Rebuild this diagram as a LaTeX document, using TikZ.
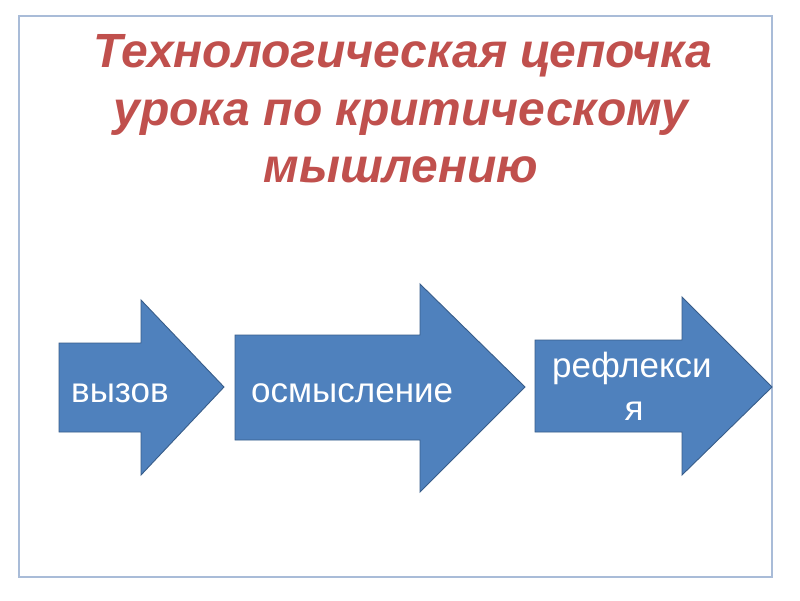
\documentclass[tikz,border=0pt]{standalone}
\usepackage{fontspec}
\setmainfont{Liberation Sans}
\definecolor{titlered}{HTML}{C0504D}
\definecolor{arrowfill}{HTML}{4F81BD}
\definecolor{arrowline}{HTML}{385D8A}
\definecolor{framecol}{HTML}{A9BCD8}
\tikzset{
  arrowshape/.style={fill=arrowfill, draw=arrowline, line width=0.9pt, line join=miter},
  arrowtext/.style={text=white, font=\fontsize{35}{40}\selectfont, inner sep=0pt},
  titletext/.style={text=titlered, font=\fontsize{48}{57}\selectfont\bfseries\itshape, inner sep=0pt, anchor=base}
}
\begin{document}
\begin{tikzpicture}[x=1pt,y=-1pt]
\useasboundingbox (0,0) rectangle (800,600);
\fill[white] (0,0) rectangle (800,600);
\draw[framecol, line width=1.2pt] (19,16) rectangle (772,577);
% title
\node[titletext] (title1) at (403,67) {Технологическая цепочка};
\node[titletext] (title2) at (401,125) {урока по критическому};
\node[titletext] (title3) at (401,182) {мышлению};
% arrow 1
\draw[arrowshape] (59,343) -- (141,343) -- (141,300) -- (224,387) -- (141,475) -- (141,432) -- (59,432) -- cycle;
% arrow 2
\draw[arrowshape] (235,335) -- (420,335) -- (420,284) -- (525,387) -- (420,492) -- (420,440) -- (235,440) -- cycle;
% arrow 3
\draw[arrowshape] (535,340) -- (682,340) -- (682,297) -- (772,387) -- (682,475) -- (682,432) -- (535,432) -- cycle;
\node[arrowtext, anchor=base west] (t1) at (71,402) {вызов};
\node[arrowtext, anchor=base west] (t2) at (251,402) {осмысление};
\node[arrowtext, anchor=base west] (t3) at (552,377) {рефлекси};
\node[arrowtext, anchor=base] (t4) at (634,420) {я};
\end{tikzpicture}
\end{document}
